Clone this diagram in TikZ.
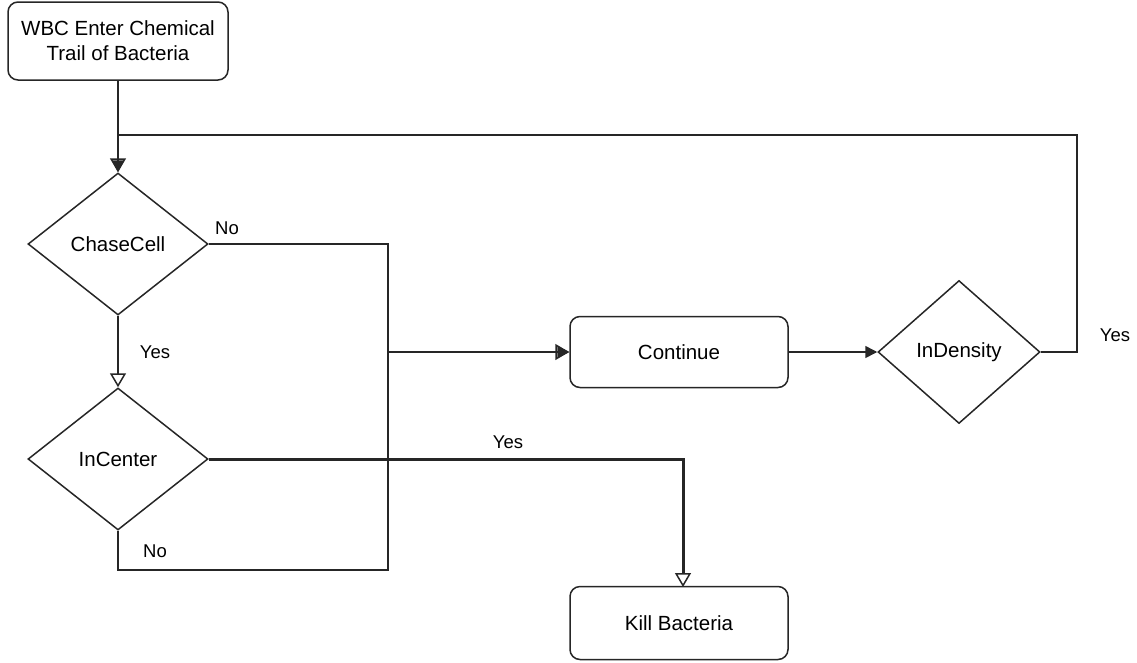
\documentclass[tikz,border=0pt]{standalone}
\usepackage{fontspec}
\setmainfont{Liberation Sans}
\usetikzlibrary{shapes.geometric,arrows.meta}
\begin{document}
\begin{tikzpicture}[x=1pt,y=-1pt,
  every node/.style={font=\fontsize{20.5}{25}\selectfont},
  line/.style={line width=1.5pt,draw=black!85},
  rbox/.style={draw=black!85,line width=1.5pt,rounded corners=10pt,fill=white,align=center,inner sep=0pt},
  dia/.style={draw=black!85,line width=1.5pt,diamond,fill=white,inner sep=0pt},
  opentip/.style={-{Triangle[open,length=14pt,width=16pt]}},
  filledtip/.style={-{Triangle[length=12pt,width=12pt]}},
  lbl/.style={font=\fontsize{18.5}{22}\selectfont}]
\useasboundingbox (0,0) rectangle (1137,662);
\node[rbox,minimum width=220pt,minimum height=78pt] (wbc) at (118,41) {WBC Enter Chemical\\Trail of Bacteria};
\node[dia,minimum width=180pt,minimum height=142pt] (chase) at (118,244) {ChaseCell};
\node[dia,minimum width=180pt,minimum height=142pt] (incenter) at (118,459) {InCenter};
\node[rbox,minimum width=218pt,minimum height=71pt] (cont) at (679,352) {Continue};
\node[dia,minimum width=162pt,minimum height=143pt] (indens) at (959,352) {InDensity};
\node[rbox,minimum width=218pt,minimum height=73pt] (kill) at (679,623) {Kill Bacteria};
\coordinate (loopR) at (1077,352);
\coordinate (loopT) at (118,135);
\coordinate (jx) at (388,352);
\coordinate (noBot) at (118,570);
\coordinate (killTop) at (683,587);
% connectors
\draw[line,filledtip] (indens.east) -- (loopR) |- (loopT) -- (chase.north);
\draw[line,opentip] (wbc.south) -- (chase.north);
\draw[line,filledtip] (incenter.south) -- (noBot) -| (jx) -- (cont.west);
\draw[line,opentip] (chase.east) -| (jx) -- (cont.west);
\draw[line,opentip] (chase.south) -- (incenter.north);
\draw[line width=3pt,draw=black!85,-{Triangle[open,length=14pt,width=16pt,line width=1.5pt]}] (incenter.east) -| (killTop);
\draw[line,filledtip] (cont.east) -- (indens.west);
% labels
\node[lbl] (l1) at (227,228) {No};
\node[lbl] (l2) at (155,352) {Yes};
\node[lbl] (l3) at (508,442) {Yes};
\node[lbl] (l4) at (155,551) {No};
\node[lbl] (l5) at (1115,335) {Yes};
\end{tikzpicture}
\end{document}
